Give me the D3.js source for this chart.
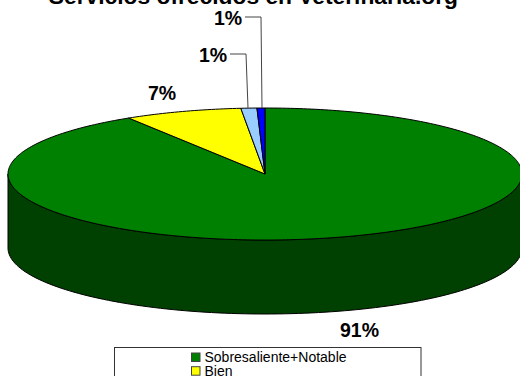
<!DOCTYPE html>
<html><head><meta charset="utf-8">
<script src="https://cdn.jsdelivr.net/npm/d3@7"></script>
<style>html,body{margin:0;padding:0;background:#fff;overflow:hidden}svg{display:block}text{font-family:"Liberation Sans",Arial,sans-serif}</style>
</head><body><svg width="520" height="376"></svg>
<script>
const titleText = "Servicios ofrecidos en Veterinaria.org";
const legendLabels = ["Sobresaliente+Notable","Bien"];
const values = [91.1,7.4,1.0,0.5];
const percentLabels = ["91%","7%","1%","1%"];
const topColors = ["#008000","#ffff00","#99ccff","#0000ff"];
const sideColor = "#004000";

const svg = d3.select("svg");
const cx=265, cy=174, rx=257, ry=66, depth=74;
const sx=d3.scaleLinear().domain([-1,1]).range([cx-rx,cx+rx]);
const sy=d3.scaleLinear().domain([-1,1]).range([cy-ry,cy+ry]);
const pie=d3.pie().sort(null).startAngle(0).endAngle(Math.PI*2);
const arcs=pie(values);
const pt=a=>[sx(Math.sin(a)),sy(-Math.cos(a))];
const line=d3.line();
function slicePath(d){
  const n=Math.max(2,Math.ceil((d.endAngle-d.startAngle)*60));
  const pts=[[sx(0),sy(0)]];
  d3.range(n+1).forEach(i=>pts.push(pt(d.startAngle+(d.endAngle-d.startAngle)*i/n)));
  return line(pts)+"Z";
}
const wallA=Math.PI/2, wallB=Math.PI*1.5, wn=120;
const outer=d3.range(wn+1).map(i=>pt(wallA+(wallB-wallA)*i/wn));
const wall=outer.concat(outer.slice().reverse().map(p=>[p[0],p[1]+depth]));
svg.append("path").attr("d",line(wall)+"Z").attr("fill",sideColor).attr("stroke","#000").attr("stroke-width",1);

svg.append("g").selectAll("path").data(arcs).join("path")
  .attr("d",slicePath).attr("fill",(d,i)=>topColors[i]).attr("stroke","#000").attr("stroke-width",1).attr("stroke-linejoin","round");

svg.append("text").attr("x",458).attr("y",4).attr("text-anchor","end").attr("font-size",22.8).attr("font-weight","bold").attr("fill","#000").text(titleText);

const leaders=[[[230,54],[246,54],[248,108]],[[245,17],[261,17],[262,108]]];
svg.append("g").selectAll("path").data(leaders).join("path").attr("d",d=>line(d)).attr("fill","none").attr("stroke","#444").attr("stroke-width",1);

const labelPos=[[359.5,337],[162,100],[213,62],[228,25]];
svg.append("g").selectAll("text").data(percentLabels).join("text")
  .attr("x",(d,i)=>labelPos[i][0]).attr("y",(d,i)=>labelPos[i][1]).attr("text-anchor","middle")
  .attr("font-size",19.5).attr("font-weight","bold").attr("fill","#000").text(d=>d);

svg.append("rect").attr("x",114.5).attr("y",347.5).attr("width",306.5).attr("height",40).attr("fill","#fff").attr("stroke","#333").attr("stroke-width",1);
const legend=svg.append("g").selectAll("g").data(legendLabels).join("g").attr("transform",(d,i)=>`translate(191,${357.5+i*13.7})`);
legend.append("rect").attr("x",0.5).attr("y",-4.5).attr("width",8.5).attr("height",8.5).attr("fill",(d,i)=>topColors[i]).attr("stroke","#444");
legend.append("text").attr("x",13.5).attr("y",4.3).attr("font-size",14).attr("fill","#000").text(d=>d);
</script></body></html>
